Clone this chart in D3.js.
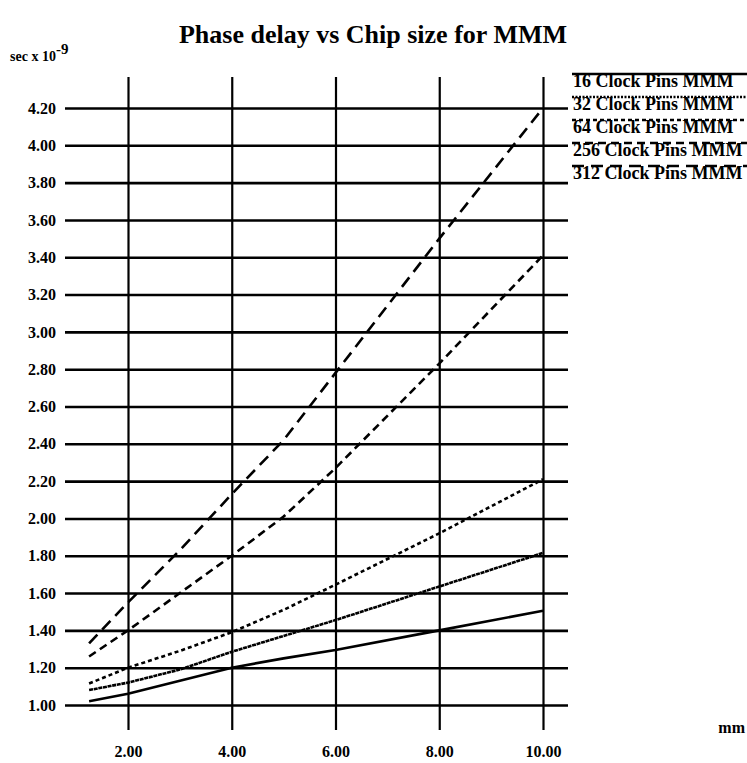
<!DOCTYPE html>
<html>
<head>
<meta charset="utf-8">
<script src="https://cdn.jsdelivr.net/npm/d3@7"></script>
<style>
    body { margin: 0; background: #fff; }
    text { font-family: "Liberation Serif", "DejaVu Serif", serif; font-weight: bold; fill: #000; }
</style>
</head>
<body>
<script>
// chip size in mm (x) and phase delay in sec x 10^-9 (y)
const chipSize = [1.25, 2, 3, 4, 5, 6, 8, 10];

const pins16  = [1.02, 1.06, 1.13, 1.20, 1.25, 1.295, 1.40, 1.505];
const pins32  = [1.08, 1.12, 1.19, 1.285, 1.37, 1.455, 1.635, 1.815];
const pins64  = [1.115, 1.20, 1.29, 1.39, 1.51, 1.645, 1.92, 2.21];
const pins256 = [1.26, 1.40, 1.60, 1.80, 2.01, 2.27, 2.83, 3.41];
const pins312 = [1.33, 1.55, 1.83, 2.13, 2.42, 2.78, 3.50, 4.20];

const seriesNames = ["16 Clock Pins MMM", "32 Clock Pins MMM", "64 Clock Pins MMM", "256 Clock Pins MMM", "312 Clock Pins MMM"];

const xTicks = [2, 4, 6, 8, 10];
const yTicks = [1.0, 1.2, 1.4, 1.6, 1.8, 2.0, 2.2, 2.4, 2.6, 2.8, 3.0, 3.2, 3.4, 3.6, 3.8, 4.0, 4.2];

const WIDTH = 747;
const HEIGHT = 763;

// plot box (where the grid lines go)
const GRID_LEFT = 65;
const GRID_RIGHT = 568;
const GRID_TOP = 77;
const GRID_BOTTOM = 730;

// line styles, in the same order as the series (32 pins is a very fine dot, looks solid)
const DASHES = [null, "4,0.7", "4,3", "8,5", "12,7"];

let svg = d3.select("body").append("svg")
    .attr("width", WIDTH)
    .attr("height", HEIGHT);

let xscale = d3.scaleLinear().domain([2, 10]).range([128, 543]);
let yscale = d3.scaleLinear().domain([1.0, 4.2]).range([705, 108]);

// horizontal grid + y labels
let yAxis = d3.axisLeft(yscale)
    .tickValues(yTicks)
    .tickFormat(d3.format(".2f"))
    .tickSize(-(GRID_RIGHT - GRID_LEFT))
    .tickPadding(9);

let yGroup = svg.append("g")
    .attr("transform", "translate(" + GRID_LEFT + ",0)")
    .call(yAxis);
yGroup.select(".domain").remove();
yGroup.selectAll("line").attr("stroke", "#000").attr("stroke-width", 2.6);
yGroup.selectAll("text").style("font-size", "16px").style("font-family", "Liberation Serif").style("font-weight", "bold");

// vertical grid + x labels
let xAxis = d3.axisBottom(xscale)
    .tickValues(xTicks)
    .tickFormat(d3.format(".2f"))
    .tickSize(-(GRID_BOTTOM - GRID_TOP))
    .tickPadding(16);

let xGroup = svg.append("g")
    .attr("transform", "translate(0," + GRID_BOTTOM + ")")
    .call(xAxis);
xGroup.select(".domain").remove();
xGroup.selectAll("line").attr("stroke", "#000").attr("stroke-width", 2.2);
xGroup.selectAll("text").style("font-size", "16px").style("font-family", "Liberation Serif").style("font-weight", "bold");

// the curves
const allSeries = [pins16, pins32, pins64, pins256, pins312];

let line = d3.line()
    .x((d, i) => xscale(chipSize[i]))
    .y(d => yscale(d));

allSeries.forEach((vals, i) => {
    svg.append("path")
        .datum(vals)
        .attr("fill", "none")
        .attr("stroke", "#000")
        .attr("stroke-width", 2.6)
        .attr("stroke-dasharray", DASHES[i])
        .attr("d", line);
});

// title and axis units
svg.append("text")
    .attr("x", 373).attr("y", 43)
    .attr("text-anchor", "middle")
    .style("font-size", "26px")
    .text("Phase delay vs Chip size for MMM");

let unit = svg.append("text")
    .attr("x", 10).attr("y", 61)
    .style("font-size", "14px");
unit.append("tspan").text("sec x 10");
unit.append("tspan").attr("dy", -7).style("font-size", "15px").text("-9");

svg.append("text")
    .attr("x", 745).attr("y", 733)
    .attr("text-anchor", "end")
    .style("font-size", "16px")
    .text("mm");

// legend - sample line drawn across the top of each entry
let legend = svg.append("g");
seriesNames.forEach((name, i) => {
    let base = 87 + i * 23;
    legend.append("line")
        .attr("x1", 572).attr("x2", 747)
        .attr("y1", base - 13).attr("y2", base - 13)
        .attr("stroke", "#000")
        .attr("stroke-width", 2.4)
        .attr("stroke-dasharray", i == 1 ? "2,1.5" : DASHES[i]);
    legend.append("text")
        .attr("x", 573).attr("y", base)
        .style("font-size", "18px")
        .text(name);
});
</script>
</body>
</html>
